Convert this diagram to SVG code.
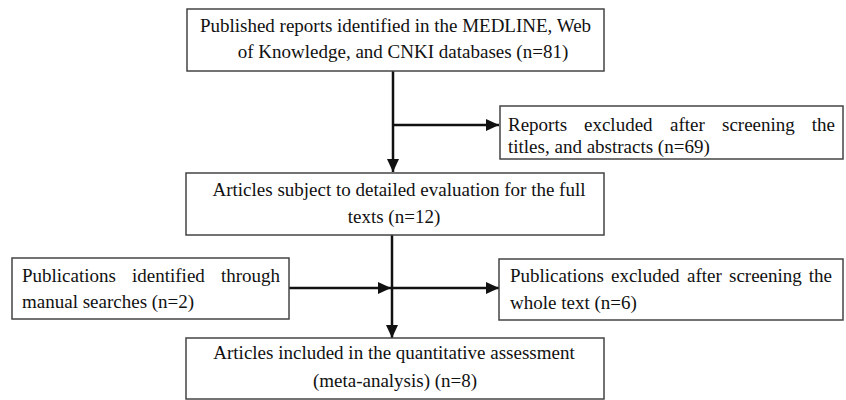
<svg xmlns="http://www.w3.org/2000/svg" width="846" height="400" viewBox="0 0 846 400">
<defs>
<marker id="ah" markerUnits="userSpaceOnUse" markerWidth="14" markerHeight="12" refX="13" refY="6" orient="auto">
<path d="M0,0 L13,6 L0,12 Z" fill="#111"/>
</marker>
</defs>
<style>
.box{fill:#fff;stroke:#444;stroke-width:1.5}
.t{font-family:'Liberation Serif','Times New Roman','DejaVu Serif',serif;font-size:19px;fill:#111}
.c{text-anchor:middle}
.con{stroke:#111;stroke-width:2.5;fill:none}
</style>
<rect width="846" height="400" fill="#fff"/>
<g id="connectors">
<line class="con" x1="393" y1="71" x2="393" y2="172" marker-end="url(#ah)"/>
<line class="con" x1="393" y1="125" x2="499" y2="125" marker-end="url(#ah)"/>
<line class="con" x1="392" y1="235" x2="392" y2="338" marker-end="url(#ah)"/>
<line class="con" x1="289" y1="288" x2="391" y2="288" marker-end="url(#ah)"/>
<line class="con" x1="392" y1="288" x2="499" y2="288" marker-end="url(#ah)"/>
</g>
<g id="n1" class="t" font-family="Liberation Serif, serif">
<rect class="box" x="187" y="9" width="417" height="62"/>
<text class="c" x="395.5" y="32">Published reports identified in the MEDLINE, Web</text>
<text class="c" x="403" y="58">of Knowledge, and CNKI databases (n=81)</text>
</g>
<g id="n2" class="t" font-family="Liberation Serif, serif">
<rect class="box" x="500" y="106" width="343" height="53"/>
<text y="131"><tspan x="508">Reports</tspan><tspan x="584">excluded</tspan><tspan x="670">after</tspan><tspan x="722">screening</tspan><tspan x="835" text-anchor="end">the</tspan></text>
<text x="508" y="153">titles, and abstracts (n=69)</text>
</g>
<g id="n3" class="t" font-family="Liberation Serif, serif">
<rect class="box" x="186" y="173" width="418" height="62"/>
<text class="c" x="399" y="196">Articles subject to detailed evaluation for the full</text>
<text class="c" x="394" y="223">texts (n=12)</text>
</g>
<g id="n4" class="t" font-family="Liberation Serif, serif">
<rect class="box" x="12" y="258" width="277" height="61"/>
<text y="282"><tspan x="22">Publications</tspan><tspan x="132">identified</tspan><tspan x="280" text-anchor="end">through</tspan></text>
<text x="22" y="308">manual searches (n=2)</text>
</g>
<g id="n5" class="t" font-family="Liberation Serif, serif">
<rect class="box" x="499" y="259" width="344" height="61"/>
<text y="282"><tspan x="510">Publications</tspan><tspan x="611">excluded</tspan><tspan x="687">after</tspan><tspan x="729">screening</tspan><tspan x="832" text-anchor="end">the</tspan></text>
<text x="510" y="309">whole text (n=6)</text>
</g>
<g id="n6" class="t" font-family="Liberation Serif, serif">
<rect class="box" x="186" y="338" width="418" height="61"/>
<text class="c" x="394" y="359">Articles included in the quantitative assessment</text>
<text class="c" x="395" y="387">(meta-analysis) (n=8)</text>
</g>
</svg>
